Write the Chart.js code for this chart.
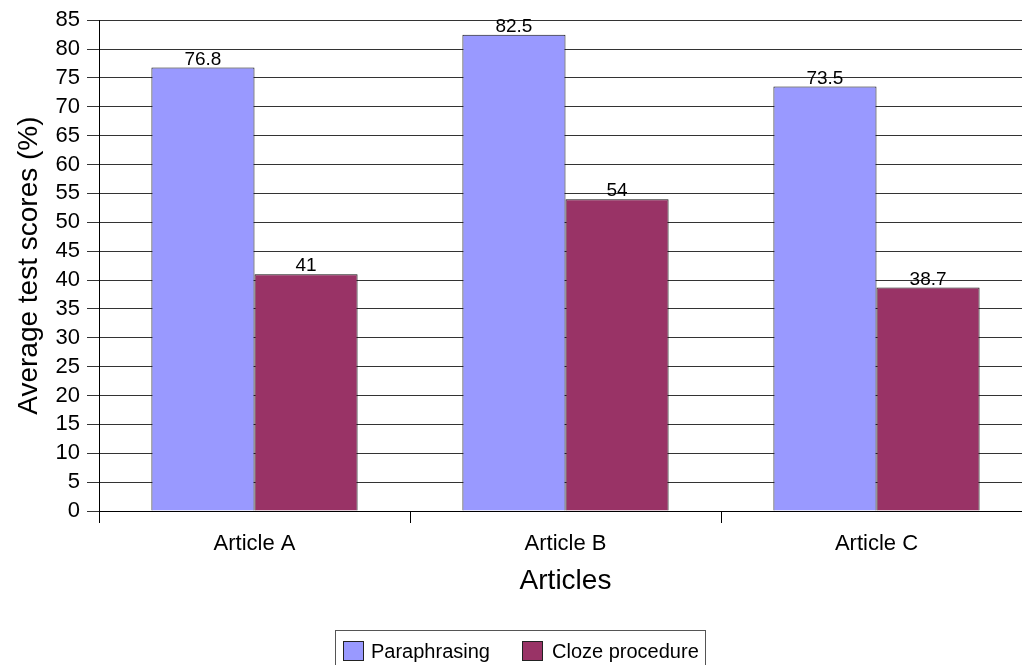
<!DOCTYPE html>
<html>
<head>
<meta charset="utf-8">
<script src="https://cdn.jsdelivr.net/npm/chart.js@4/dist/chart.umd.min.js"></script>
<style>
  html, body { margin: 0; padding: 0; background: #fff; overflow: hidden; }
  #wrap { position: relative; width: 1040px; height: 665px; }
</style>
</head>
<body>
<div id="wrap"><canvas id="chart"></canvas></div>
<script>
// Average test scores per article and method
const categories = ['Article A', 'Article B', 'Article C'];
const seriesNames = ['Paraphrasing', 'Cloze procedure'];
const paraphrasing = [76.8, 82.5, 73.5];
const cloze = [41, 54, 38.7];
const yTicks = [0, 5, 10, 15, 20, 25, 30, 35, 40, 45, 50, 55, 60, 65, 70, 75, 80, 85];

const FONT = '"Liberation Sans", Arial, sans-serif';
const colors = ['#9999FF', '#993366'];

// value labels above each bar
const valueLabels = {
  id: 'valueLabels',
  afterDatasetsDraw(chart) {
    const ctx = chart.ctx;
    ctx.save();
    ctx.font = '19px ' + FONT;
    ctx.fillStyle = '#000';
    ctx.textAlign = 'center';
    ctx.textBaseline = 'alphabetic';
    chart.data.datasets.forEach((ds, i) => {
      chart.getDatasetMeta(i).data.forEach((bar, j) => {
        ctx.fillText(String(ds.data[j]), bar.x, bar.y - 3);
      });
    });
    ctx.restore();
  }
};

// boxed legend under the axis title
const boxedLegend = {
  id: 'boxedLegend',
  afterDraw(chart) {
    const ctx = chart.ctx;
    ctx.save();
    ctx.strokeStyle = '#555';
    ctx.lineWidth = 1;
    ctx.strokeRect(335.5, 630.5, 370, 44);
    const items = [
      { sx: 343, tx: 371 },
      { sx: 522, tx: 552 }
    ];
    ctx.font = '20px ' + FONT;
    ctx.textBaseline = 'middle';
    ctx.textAlign = 'left';
    chart.data.datasets.forEach((ds, i) => {
      const it = items[i];
      ctx.fillStyle = ds.backgroundColor;
      ctx.fillRect(it.sx + 0.5, 641.5, 20, 19);
      ctx.strokeStyle = '#222';
      ctx.strokeRect(it.sx + 0.5, 641.5, 20, 19);
      ctx.fillStyle = '#000';
      ctx.fillText(ds.label, it.tx, 652);
    });
    ctx.restore();
  }
};

new Chart(document.getElementById('chart'), {
  type: 'bar',
  data: {
    labels: categories,
    datasets: [
      { label: seriesNames[0], data: paraphrasing, backgroundColor: colors[0], borderColor: '#111', borderWidth: 1 },
      { label: seriesNames[1], data: cloze, backgroundColor: colors[1], borderColor: '#111', borderWidth: 1 }
    ]
  },
  options: {
    responsive: true,
    maintainAspectRatio: false,
    animation: false,
    devicePixelRatio: 1,
    layout: { padding: { top: 20, right: 8, bottom: 0, left: 0 } },
    datasets: { bar: { barPercentage: 1, categoryPercentage: 0.663, borderSkipped: 'start' } },
    plugins: {
      legend: { display: false },
      tooltip: { enabled: false }
    },
    scales: {
      x: {
        afterFit(scale) { scale.height = 154; },
        grid: { drawOnChartArea: false, drawTicks: true, tickLength: 12, color: '#000', offset: true },
        border: { display: true, color: '#000', width: 1 },
        ticks: { color: '#000', font: { family: FONT, size: 22 }, padding: 8 },
        title: {
          display: true, text: 'Articles', color: '#000',
          font: { family: FONT, size: 28 }, padding: { top: 0, bottom: 67 }
        }
      },
      y: {
        min: 0, max: 85,
        afterFit(scale) { scale.width = 99; },
        afterBuildTicks(scale) { scale.ticks = yTicks.map(v => ({ value: v })); },
        grid: { color: '#333', lineWidth: 1, drawTicks: true, tickLength: 12 },
        border: { display: true, color: '#000', width: 1 },
        ticks: { color: '#000', font: { family: FONT, size: 22 }, padding: 7, autoSkip: false },
        title: {
          display: true, text: 'Average test scores (%)', color: '#000',
          font: { family: FONT, size: 28 }, padding: { top: 12, bottom: 0 }
        }
      }
    }
  },
  plugins: [valueLabels, boxedLegend]
});
</script>
</body>
</html>
